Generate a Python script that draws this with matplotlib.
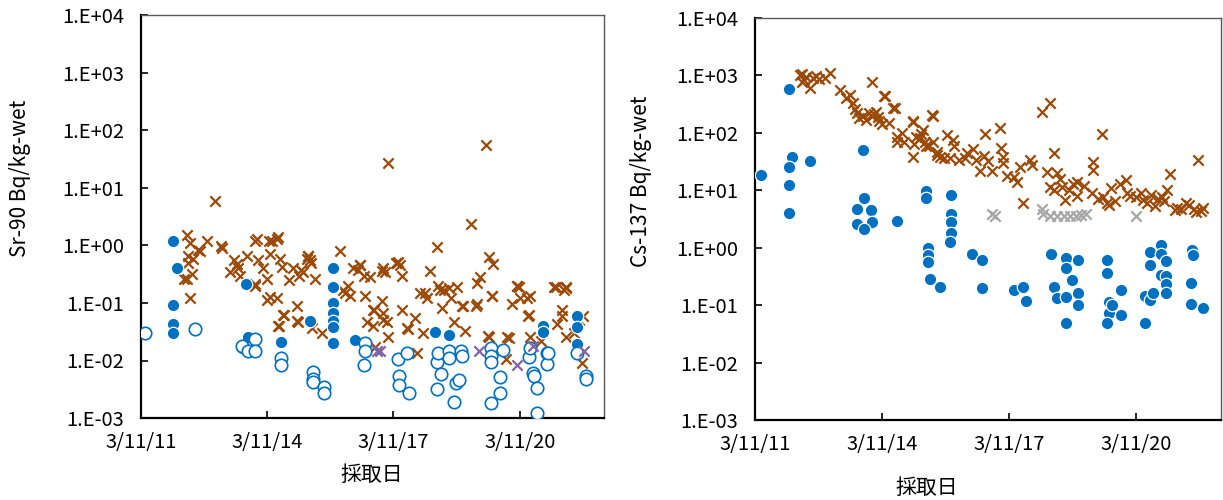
import datetime as dt
import numpy as np
import matplotlib
matplotlib.use("Agg")
import matplotlib.pyplot as plt
import matplotlib.dates as mdates
from matplotlib.ticker import FixedLocator, FuncFormatter

plt.rcParams['font.family'] = ['Noto Sans CJK JP', 'DejaVu Sans']

# ---- Sr-90 (Bq/kg-wet) : sampling time in decimal years ----
sr_x_t = [2012.95, 2012.28, 2012.36, 2012.75, 2012.55, 2012.60, 2012.43, 2012.30, 2012.40, 2012.28,
          2012.36, 2013.10, 2013.12, 2013.31, 2013.47, 2013.50, 2013.55, 2013.71, 2013.90, 2013.95,
          2013.97, 2013.90, 2014.10, 2014.22, 2014.42, 2014.45, 2014.26, 2014.18, 2014.18, 2014.42,
          2014.50, 2014.55, 2014.57, 2014.45, 2014.81, 2014.90, 2014.93, 2014.95, 2015.00, 2015.14,
          2015.15, 2015.20, 2015.22, 2015.33, 2015.25, 2015.49, 2015.93, 2016.00, 2016.05, 2016.10,
          2016.24, 2016.40, 2016.35, 2016.52, 2016.56, 2016.64, 2016.71, 2016.76, 2016.92, 2016.95,
          2017.00, 2016.95, 2017.07, 2017.24, 2017.30, 2017.35, 2017.40, 2017.40, 2017.52, 2017.71,
          2017.75, 2017.90, 2017.95, 2017.98, 2018.07, 2018.23, 2018.25, 2018.35, 2018.40, 2018.50,
          2018.62, 2018.70, 2018.85, 2018.90, 2019.04, 2019.18, 2019.25, 2019.18, 2019.46, 2019.55,
          2019.53, 2019.46, 2019.86, 2019.90, 2020.02, 2020.12, 2020.17, 2020.20, 2020.40, 2020.43,
          2020.45, 2021.00, 2021.08, 2021.20, 2021.24, 2021.30, 2021.30, 2021.48, 2021.68, 2021.70,
          2017.07, 2019.40, 2012.30, 2012.20, 2013.90, 2014.30, 2014.26, 2014.58, 2014.46, 2014.90,
          2015.17, 2016.15, 2016.40, 2016.50, 2016.72, 2016.70, 2016.92, 2016.95, 2017.27, 2017.83,
          2018.30, 2018.82, 2019.53, 2019.15, 2020.13, 2020.37, 2020.41, 2021.05, 2021.30, 2021.20,
          2019.94, 2019.44, 2017.04, 2017.54, 2015.05, 2013.40, 2014.70, 2018.55, 2020.70, 2021.60]
sr_x_v = [6.0, 1.5, 1.1, 1.2, 0.85, 0.8, 0.58, 0.5, 0.32, 0.26,
          0.12, 0.98, 0.9, 0.34, 0.47, 0.4, 0.3, 0.65, 1.2, 1.3,
          0.55, 0.2, 0.4, 1.2, 1.3, 1.4, 0.7, 0.26, 0.115, 0.12,
          0.58, 0.42, 0.063, 0.04, 0.4, 0.087, 0.046, 0.3, 0.38, 0.58,
          0.65, 0.55, 0.5, 0.26, 0.037, 0.03, 0.8, 0.17, 0.15, 0.2,
          0.4, 0.45, 0.38, 0.13, 0.046, 0.28, 0.077, 0.017, 0.107, 0.4,
          0.35, 0.068, 0.026, 0.5, 0.52, 0.45, 0.3, 0.077, 0.037, 0.055,
          0.0135, 0.03, 0.15, 0.12, 0.36, 0.95, 0.2, 0.083, 0.17, 0.18,
          0.046, 0.19, 0.087, 0.033, 2.4, 0.22, 0.28, 0.095, 0.62, 0.48,
          0.13, 0.026, 0.0105, 0.026, 0.095, 0.2, 0.19, 0.12, 0.059, 0.026,
          0.13, 0.19, 0.044, 0.06, 0.17, 0.18, 0.026, 0.03, 0.009, 0.06,
          27.0, 57.0, 0.65, 0.26, 0.21, 1.2, 0.125, 0.063, 0.04, 0.048,
          0.65, 0.13, 0.45, 0.3, 0.077, 0.04, 0.36, 0.05, 0.5, 0.15,
          0.17, 0.087, 0.13, 0.087, 0.2, 0.12, 0.063, 0.19, 0.19, 0.075,
          0.025, 0.027, 0.047, 0.035, 0.35, 0.55, 0.25, 0.12, 0.022, 0.05]

sr_mark_t = [2016.80, 2016.88, 2019.22, 2020.13, 2020.50, 2021.71]
sr_mark_v = [0.0145, 0.0145, 0.0145, 0.0085, 0.018, 0.0145]

sr_dot_t = [2011.96, 2012.04, 2011.96, 2011.96, 2011.96, 2013.69, 2013.74, 2013.58, 2014.52, 2015.20,
            2015.75, 2015.75, 2015.76, 2015.76, 2015.76, 2015.76, 2015.75, 2016.28, 2018.17, 2018.50,
            2020.74, 2020.74, 2021.56, 2021.56, 2021.56]
sr_dot_v = [1.2, 0.4, 0.094, 0.044, 0.03, 0.21, 0.026, 0.0165, 0.021, 0.048,
            0.41, 0.19, 0.1, 0.068, 0.048, 0.038, 0.02, 0.023, 0.031, 0.028,
            0.04, 0.031, 0.06, 0.038, 0.019]

sr_open_t = [2011.29, 2012.47, 2013.60, 2013.74, 2013.90, 2013.90, 2014.52, 2014.52, 2015.28, 2015.28,
             2015.28, 2015.53, 2015.53, 2016.52, 2016.52, 2016.48, 2017.30, 2017.52, 2017.32, 2017.32,
             2017.57, 2018.23, 2018.26, 2018.31, 2018.23, 2018.50, 2018.52, 2018.80, 2018.82, 2018.67,
             2018.75, 2018.63, 2019.50, 2019.50, 2019.50, 2019.80, 2019.72, 2019.72, 2019.52, 2020.41,
             2020.45, 2020.52, 2020.54, 2020.60, 2020.60, 2020.84, 2020.85, 2020.86, 2021.56, 2021.76,
             2021.76]
sr_open_v = [0.03, 0.035, 0.018, 0.0145, 0.024, 0.0145, 0.011, 0.0085, 0.0063, 0.0047,
             0.0043, 0.0035, 0.0027, 0.02, 0.0145, 0.0085, 0.0108, 0.0135, 0.0054, 0.0038,
             0.0027, 0.0093, 0.0135, 0.0059, 0.0032, 0.0145, 0.011, 0.0145, 0.012, 0.0041,
             0.0045, 0.0019, 0.0165, 0.012, 0.0095, 0.015, 0.0051, 0.0027, 0.0018, 0.0117,
             0.0165, 0.0061, 0.0053, 0.0033, 0.0012, 0.0135, 0.0087, 0.0135, 0.0135, 0.0054,
             0.0047]

# ---- Cs-137 (Bq/kg-wet) ----
cs_x_t = [2012.25, 2012.30, 2012.29, 2012.48, 2012.55, 2012.70, 2012.96, 2013.20, 2013.43, 2013.33,
          2013.50, 2013.95, 2014.26, 2014.50, 2013.60, 2013.65, 2013.88, 2013.95, 2014.00, 2014.10,
          2014.12, 2014.20, 2014.54, 2014.55, 2014.70, 2014.93, 2014.95, 2015.00, 2015.10, 2015.15,
          2015.36, 2015.40, 2015.48, 2014.24, 2014.45, 2014.93, 2015.40, 2014.93, 2015.09, 2015.20,
          2015.23, 2015.48, 2015.56, 2015.72, 2015.87, 2015.90, 2016.00, 2015.80, 2015.65, 2016.15,
          2016.35, 2016.40, 2016.50, 2016.63, 2016.70, 2016.80, 2016.98, 2017.00, 2017.05, 2017.05,
          2017.30, 2017.37, 2017.53, 2017.69, 2017.72, 2017.97, 2018.16, 2018.08, 2018.24, 2018.32,
          2018.16, 2018.26, 2018.45, 2018.51, 2018.60, 2018.70, 2018.80, 2018.80, 2019.18, 2019.18,
          2019.15, 2019.38, 2019.40, 2019.50, 2019.55, 2019.60, 2019.80, 2019.95, 2019.97, 2020.20,
          2020.30, 2020.35, 2020.55, 2020.65, 2020.80, 2020.93, 2021.00, 2021.15, 2021.25, 2021.45,
          2021.66, 2021.72, 2021.37, 2012.35, 2012.40, 2012.62, 2012.85, 2013.55, 2013.75, 2013.80,
          2014.05, 2014.35, 2014.65, 2015.30, 2016.20, 2016.60, 2017.15, 2017.45, 2018.40, 2018.95,
          2019.70, 2020.05, 2020.45, 2020.70, 2021.10, 2021.55, 2021.77, 2021.60, 2020.85, 2019.30]
cs_x_v = [1000, 1050, 770, 600, 900, 870, 1100, 560, 460, 400,
          330, 770, 430, 270, 220, 180, 220, 200, 210, 190,
          160, 140, 85, 70, 70, 155, 65, 85, 95, 110,
          205, 70, 41, 440, 270, 160, 195, 38, 80, 70,
          60, 47, 38, 91, 75, 60, 34, 36, 36, 37,
          53, 34, 22, 97, 33, 22, 120, 55, 38, 30,
          17, 14, 5.9, 34, 28, 234, 325, 21, 44, 20,
          11.5, 10, 11.5, 6.8, 10, 13, 14, 8, 31, 23,
          9, 97, 7.5, 5.9, 5.5, 11, 13, 15, 9, 7.5,
          9, 6.8, 8.4, 5.3, 7.5, 10, 19.5, 5, 4.7, 5.5,
          34, 4.3, 6, 820, 950, 980, 900, 260, 200, 170,
          230, 150, 100, 60, 45, 40, 18, 25, 16, 12,
          6.5, 8, 6, 7, 4.5, 4.8, 5, 4.2, 6.5, 7]

cs_mark_t = [2016.80, 2016.86, 2017.96, 2017.98, 2018.15, 2018.32, 2018.48, 2018.62, 2018.76, 2018.88, 2019.00, 2020.20]
cs_mark_v = [3.8, 3.5, 4.8, 3.9, 3.6, 3.6, 3.5, 3.6, 3.6, 3.7, 3.9, 3.5]

cs_dot_t = [2011.32, 2012.00, 2012.07, 2012.00, 2012.00, 2012.00, 2012.50, 2013.73, 2013.77, 2013.59,
            2013.93, 2013.59, 2013.95, 2013.77, 2014.55, 2015.23, 2015.23, 2015.28, 2015.28, 2015.28,
            2015.32, 2015.56, 2015.82, 2015.82, 2015.82, 2015.82, 2015.80, 2016.31, 2016.55, 2016.55,
            2017.30, 2017.53, 2017.60, 2018.18, 2018.24, 2018.32, 2018.54, 2018.54, 2018.54, 2018.54,
            2018.81, 2018.67, 2018.81, 2018.81, 2019.50, 2019.50, 2019.54, 2019.54, 2019.50, 2019.62,
            2019.83, 2019.83, 2020.40, 2020.40, 2020.52, 2020.52, 2020.52, 2020.60, 2020.77, 2020.77,
            2020.77, 2020.90, 2020.90, 2020.90, 2020.90, 2021.51, 2021.53, 2021.48, 2021.48, 2021.77]
cs_dot_v = [18.4, 570, 38, 25, 12.6, 4.1, 32, 50, 7.4, 4.8,
            4.6, 2.6, 2.8, 2.1, 2.9, 9.8, 7.3, 0.98, 0.74, 0.57,
            0.28, 0.21, 8.4, 3.8, 2.8, 1.8, 1.27, 0.79, 0.6, 0.195,
            0.18, 0.21, 0.12, 0.79, 0.21, 0.135, 0.65, 0.44, 0.14, 0.048,
            0.6, 0.27, 0.16, 0.1, 0.6, 0.36, 0.115, 0.072, 0.048, 0.1,
            0.18, 0.068, 0.145, 0.048, 0.85, 0.5, 0.125, 0.16, 1.1, 0.78,
            0.33, 0.58, 0.32, 0.23, 0.16, 0.93, 0.75, 0.24, 0.105, 0.09]

BROWN = '#9A4A08'
BLUE = '#0070C0'
PURPLE = '#8064A2'
GREY = '#A6A6A6'

x_ticks = [dt.datetime(y, 3, 11) for y in (2011, 2014, 2017, 2020)]
x_lim = (dt.datetime(2011, 3, 11), dt.datetime(2022, 3, 14))


def to_dates(years):
    return [dt.datetime(int(y), 1, 1) + dt.timedelta(days=(y - int(y)) * 365.25) for y in years]


def date_label(x, pos):
    d = mdates.num2date(x)
    return f"{d.month}/{d.day}/{d.year % 100:02d}"


def style_axes(ax, ylabel, ylab_pos, xlab_pos):
    ax.set_yscale('log')
    ax.set_ylim(1e-3, 1e4)
    ax.set_xlim(*x_lim)
    ax.yaxis.set_major_locator(FixedLocator([10.0 ** k for k in range(-3, 5)]))
    ax.yaxis.set_minor_locator(FixedLocator([]))
    ax.yaxis.set_major_formatter(FuncFormatter(
        lambda v, p: f"1.E{'+' if v >= 1 else '-'}{abs(int(round(np.log10(v)))):02d}"))
    ax.xaxis.set_major_locator(FixedLocator(mdates.date2num(x_ticks)))
    ax.xaxis.set_major_formatter(FuncFormatter(date_label))
    ax.tick_params(direction='in', length=5, width=1.2, labelsize=14.5, colors='#000000')
    ax.tick_params(axis='y', pad=12)
    ax.tick_params(axis='x', pad=10)
    for side in ('left', 'bottom'):
        ax.spines[side].set_linewidth(1.6)
        ax.spines[side].set_color('#000000')
    for side in ('top', 'right'):
        ax.spines[side].set_linewidth(1.0)
        ax.spines[side].set_color('#595959')
    ax.set_ylabel(ylabel, fontsize=15)
    ax.yaxis.set_label_coords(*ylab_pos)
    ax.set_xlabel('採取日', fontsize=15)
    ax.xaxis.set_label_coords(*xlab_pos)


fig = plt.figure(figsize=(12.23, 5.0), dpi=100)
ax1 = fig.add_axes([0.1153, 0.164, 0.3786, 0.805])
ax2 = fig.add_axes([0.6173, 0.160, 0.3811, 0.804])

x_kw = dict(marker='x', s=55, linewidths=1.6)
dot_kw = dict(marker='o', s=80, c=BLUE, edgecolors='white', linewidths=0.9)

# Sr-90 panel
ax1.scatter(to_dates(sr_x_t), sr_x_v, c=BROWN, zorder=2, **x_kw)
ax1.scatter(to_dates(sr_dot_t), sr_dot_v, zorder=3, **dot_kw)
ax1.scatter(to_dates(sr_open_t), sr_open_v, marker='o', s=80, facecolors='white',
            edgecolors=BLUE, linewidths=1.2, zorder=4)
ax1.scatter(to_dates(sr_mark_t), sr_mark_v, c=PURPLE, zorder=5, **x_kw)
style_axes(ax1, 'Sr-90 Bq/kg-wet', (-0.238, 0.596), (0.499, -0.115))

# Cs-137 panel
ax2.scatter(to_dates(cs_x_t), cs_x_v, c=BROWN, zorder=2, **x_kw)
ax2.scatter(to_dates(cs_mark_t), cs_mark_v, c=GREY, zorder=3, **x_kw)
ax2.scatter(to_dates(cs_dot_t), cs_dot_v, zorder=4, **dot_kw)
style_axes(ax2, 'Cs-137 Bq/kg-wet', (-0.221, 0.595), (0.369, -0.142))

fig.savefig('out.png', dpi=100)
